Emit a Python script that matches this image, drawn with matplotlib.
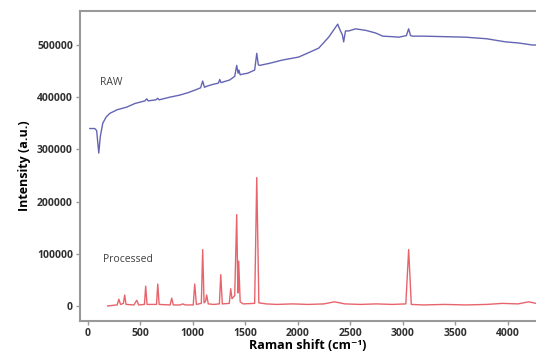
import matplotlib
matplotlib.use("Agg")
from matplotlib import pyplot as plt

# RAW spectrum (Raman shift, intensity)
raw_x = [20, 67, 85, 105, 120, 143, 175, 210, 280, 371, 450, 545, 562, 575,
         650, 667, 680, 780, 876, 960, 1038, 1075, 1095, 1112, 1133, 1200,
         1245, 1257, 1270, 1352, 1400, 1419, 1432, 1440, 1452, 1470, 1524,
         1590, 1610, 1625, 1638, 1733, 1850, 2010, 2100, 2200, 2295, 2340,
         2381, 2405, 2425, 2438, 2455, 2486, 2552, 2650, 2743, 2810, 2900,
         2962, 3035, 3057, 3075, 3095, 3200, 3400, 3600, 3800, 3981, 4100,
         4238, 4270]
raw_y = [340000, 340000, 336000, 293000, 325000, 350000, 362000, 369000,
         376000, 381000, 388000, 393000, 397000, 393000, 395000, 398000,
         395000, 400000, 404000, 409000, 415000, 418000, 431000, 419000,
         421000, 425000, 427000, 434000, 428000, 433000, 440000, 461000,
         446000, 452000, 443000, 444000, 446000, 452000, 484000, 462000,
         461000, 465000, 471000, 477000, 485000, 494000, 515000, 528000,
         540000, 528000, 520000, 506000, 527000, 527000, 531000, 528000,
         523000, 517000, 516000, 515000, 518000, 531000, 518000, 517000,
         517000, 516000, 515000, 512000, 506000, 504000, 500000, 500000]

# processed spectrum
proc_x = [190, 230, 280, 297, 312, 340, 352, 365, 440, 467, 485, 540, 552,
          565, 655, 667, 680, 785, 800, 815, 880, 905, 930, 1005, 1019,
          1035, 1082, 1095, 1108, 1122, 1133, 1148, 1200, 1254, 1267, 1282,
          1348, 1362, 1374, 1400, 1419, 1430, 1438, 1452, 1480, 1590, 1610,
          1630, 1700, 1800, 1950, 2100, 2250, 2350, 2450, 2600, 2750, 2900,
          3030, 3057, 3082, 3200, 3400, 3600, 3800, 3950, 4100, 4200, 4270]
proc_y = [0, 1000, 2000, 13000, 3000, 5000, 21000, 3000, 2000, 11000, 2000,
          3000, 38000, 3000, 3000, 42000, 3000, 2000, 15000, 2000, 2000,
          4000, 2000, 2000, 42000, 3000, 5000, 108000, 6000, 9000, 21000,
          4000, 3000, 4000, 60000, 4000, 5000, 33000, 14000, 20000, 175000,
          25000, 86000, 8000, 4000, 5000, 246000, 6000, 4000, 3000, 4000,
          3000, 4000, 8000, 4000, 3000, 4000, 3000, 4000, 108000, 3000,
          2000, 3000, 2000, 3000, 5000, 4000, 8000, 5000]

xticks = [0, 500, 1000, 1500, 2000, 2500, 3000, 3500, 4000]
yticks = [0, 100000, 200000, 300000, 400000, 500000]

plt.rcParams['font.family'] = ['Open Sans', 'DejaVu Sans']

fig = plt.figure(figsize=(5.36, 3.58), dpi=100)
ax = fig.add_axes([0.149, 0.103, 0.851, 0.866])

ax.plot(raw_x, raw_y, color='#6464b4', linewidth=1.0)
ax.plot(proc_x, proc_y, color='#e8646c', linewidth=1.0)

ax.text(114, 429000, 'RAW', fontsize=7.5, color='#404040', va='center')
ax.text(143, 90000, 'Processed', fontsize=7.5, color='#404040', va='center')

ax.set_xlim(-75, 4270)
ax.set_ylim(-29000, 565000)
ax.set_xticks(xticks)
ax.set_yticks(yticks)
ax.set_xticklabels([str(t) for t in xticks], fontsize=7.5, fontweight='bold', color='#303030')
ax.set_yticklabels([str(t) for t in yticks], fontsize=7.5, fontweight='bold', color='#303030')
ax.tick_params(length=3, width=1, color='#999999', pad=2)

for side in ['left', 'bottom', 'top']:
    ax.spines[side].set_color('#999999')
    ax.spines[side].set_linewidth(1.5)
ax.spines['right'].set_visible(False)

ax.set_xlabel('Raman shift (cm\u207b\u00b9)', fontsize=9, fontweight='bold', labelpad=0)
ax.set_ylabel('Intensity (a.u.)', fontsize=9, fontweight='bold', labelpad=4)

fig.savefig('out.png', dpi=100)
